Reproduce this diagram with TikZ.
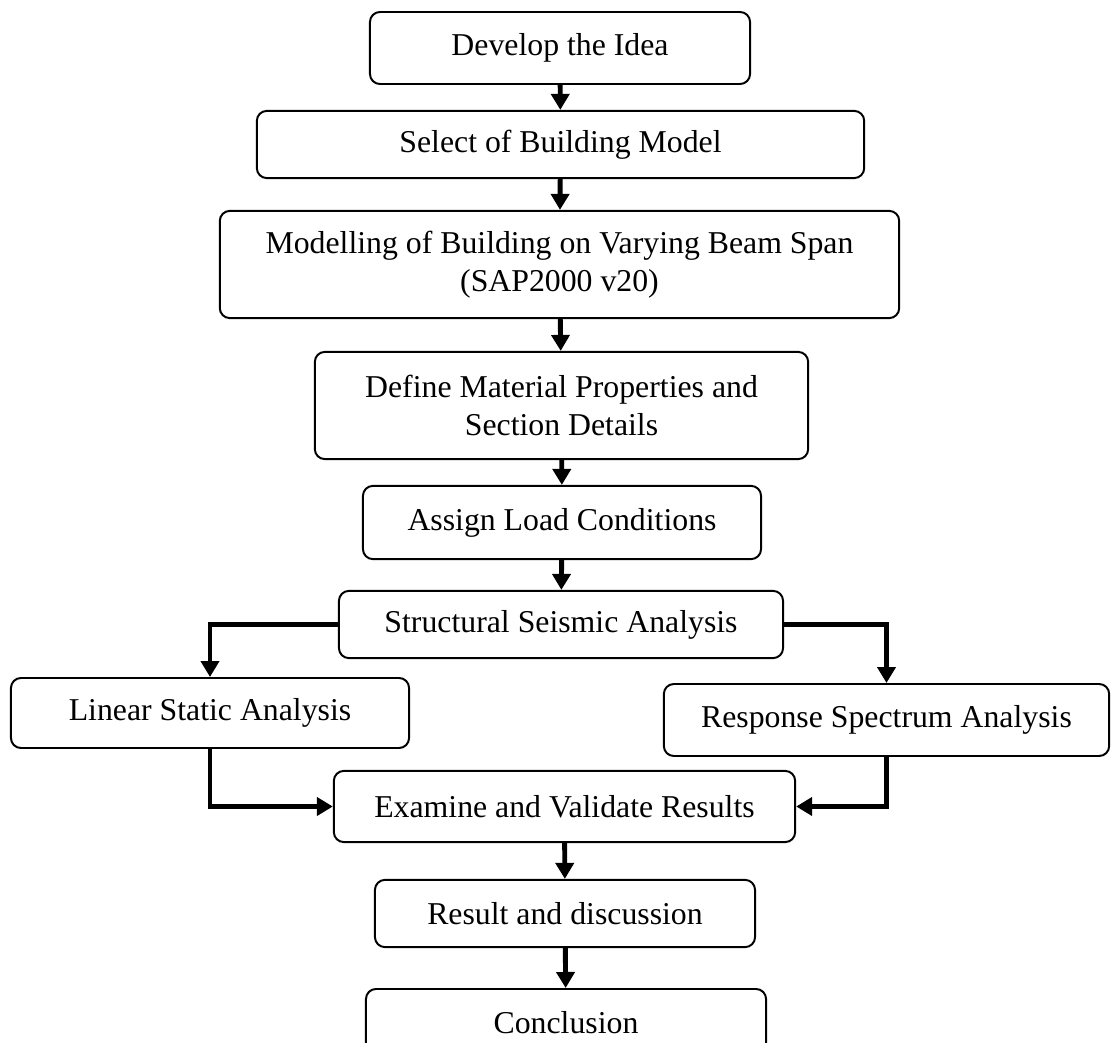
\documentclass[tikz,border=0pt]{standalone}
\usepackage{fontspec}
\setmainfont{Liberation Serif}
\usetikzlibrary{arrows.meta}

\begin{document}
\begin{tikzpicture}[x=0.025cm, y=-0.025cm,
	stepbox/.style={draw, line width=1.4pt, rounded corners=0.25cm, align=center, inner sep=0pt, font=\fontsize{22.6}{27}\selectfont},
	flow/.style={line width=3.5pt, -{Triangle[length=0.4cm, width=0.45cm]}}]
	\useasboundingbox (0,0) rectangle (1111,1043);
	% main column of steps
	\node[stepbox, minimum width=9.5cm, minimum height=1.8cm] (idea) at (560,48) {Develop the Idea};
	\node[stepbox, minimum width=15.18cm, minimum height=1.68cm] (select) at (560.5,144.5) {Select of Building Model};
	\node[stepbox, minimum width=16.98cm, minimum height=2.68cm] (model) at (559.5,264.5) {Modelling of Building on Varying Beam Span\\(SAP2000 v20)};
	\node[stepbox, minimum width=12.33cm, minimum height=2.68cm] (material) at (561.5,405.5) {Define Material Properties and\\Section Details};
	\node[stepbox, minimum width=9.95cm, minimum height=1.83cm] (load) at (562,522.5) {Assign Load Conditions};
	\node[stepbox, minimum width=11.1cm, minimum height=1.68cm] (seismic) at (561,624.5) {Structural Seismic Analysis};
	% the two analysis branches
	\node[stepbox, minimum width=9.95cm, minimum height=1.75cm] (static) at (210,713) {Linear Static Analysis};
	\node[stepbox, minimum width=11.13cm, minimum height=1.8cm] (spectrum) at (886.5,720) {Response Spectrum Analysis};
	% closing steps
	\node[stepbox, minimum width=11.53cm, minimum height=1.78cm] (examine) at (564.5,806.5) {Examine and Validate Results};
	\node[stepbox, minimum width=9.5cm, minimum height=1.68cm] (result) at (565,913.5) {Result and discussion};
	\node[stepbox, minimum width=10cm, minimum height=1.7cm] (concl) at (566,1023) {Conclusion};
	% straight arrows down the column
	\draw[flow] (idea) -- (select);
	\draw[flow] (select) -- (model);
	\draw[flow] (model) -- (material);
	\draw[flow] (material) -- (load);
	\draw[flow] (load) -- (seismic);
	% split into the branches
	\draw[flow] (seismic.west) -| (static.north);
	\draw[flow] (seismic.east) -| (spectrum.north);
	% join again
	\draw[flow] (static.south) |- (examine.west);
	\draw[flow] (spectrum.south) |- (examine.east);
	\draw[flow] (examine) -- (result);
	\draw[flow] (result) -- (concl);
\end{tikzpicture}
\end{document}
